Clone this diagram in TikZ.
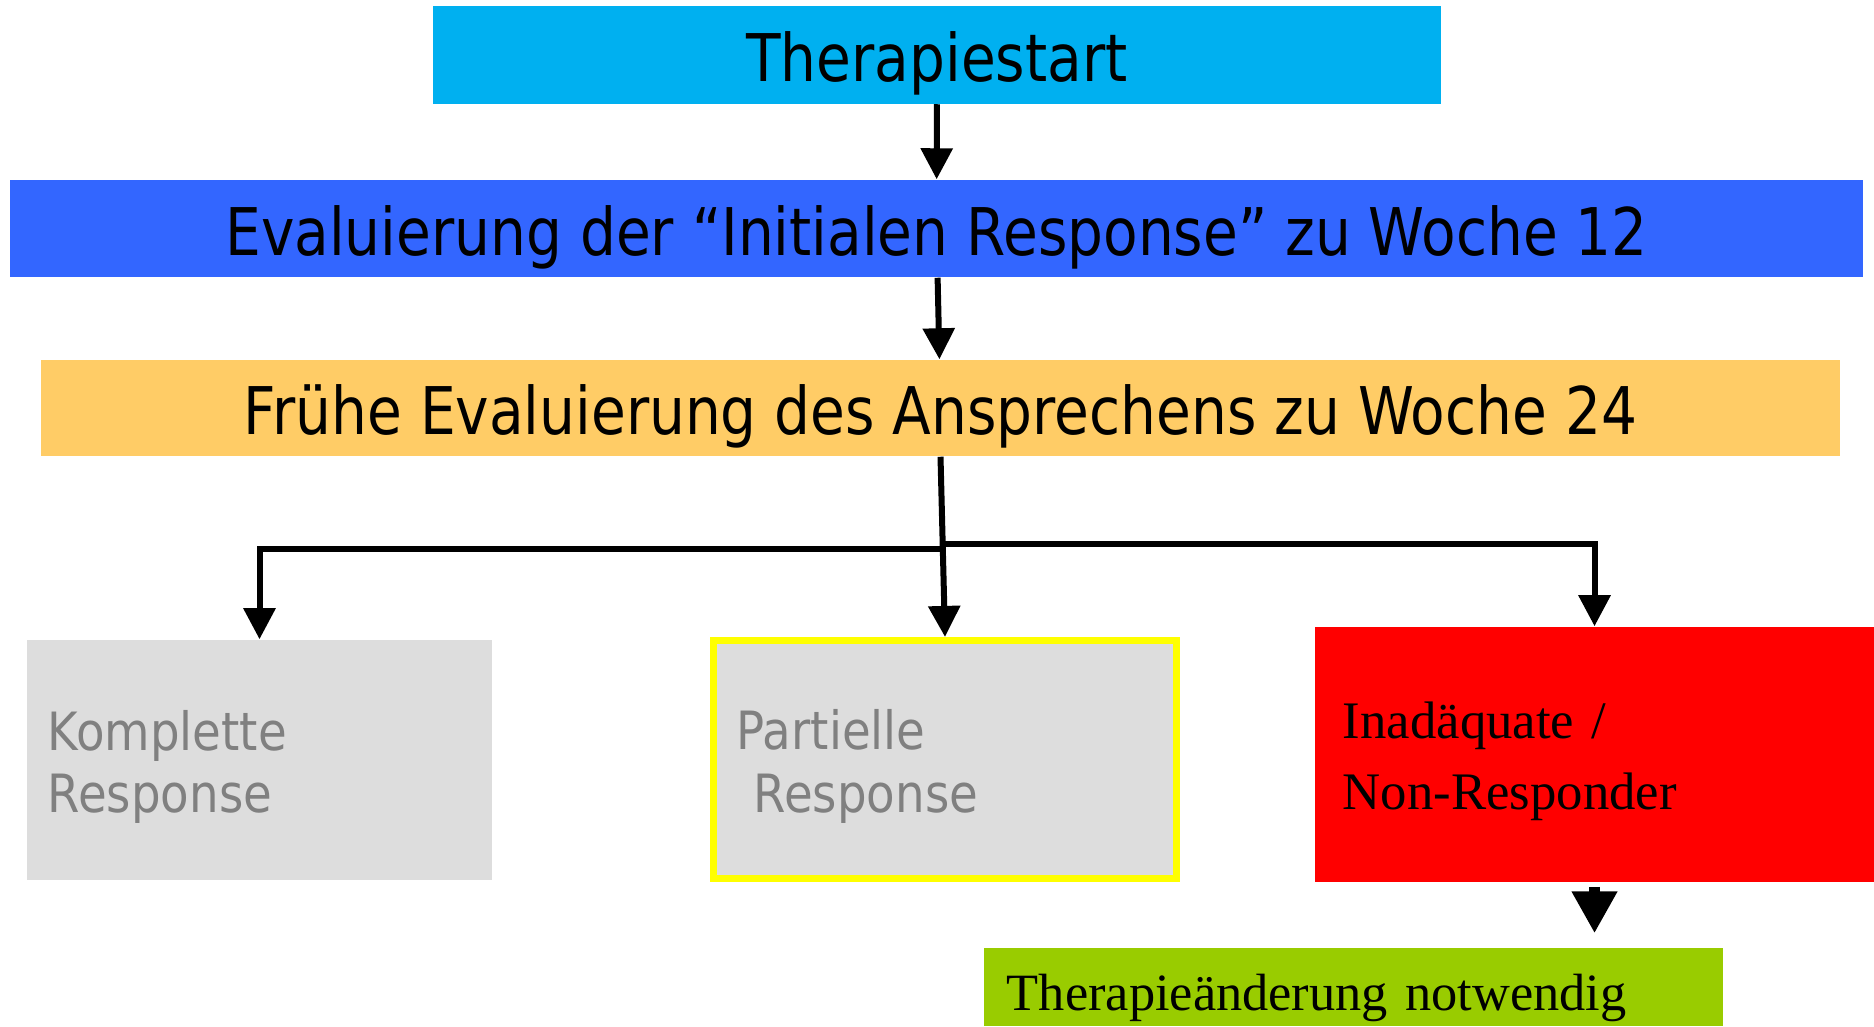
\documentclass[tikz,border=0pt]{standalone}
\usepackage{fontspec}
\usepackage{xcolor}
\usepackage{tikz}
\usetikzlibrary{arrows.meta, positioning, calc}

\newfontfamily\tahomafont[FakeStretch=0.86]{DejaVu Sans}
\newfontfamily\tahomasmall[FakeStretch=0.885]{DejaVu Sans}
\newfontfamily\timesfont{Liberation Serif}

\definecolor{startblue}{HTML}{00B0F0}
\definecolor{evalblue}{HTML}{3366FF}
\definecolor{weekorange}{HTML}{FFCC66}
\definecolor{respgrey}{HTML}{DDDDDD}
\definecolor{respgreytext}{HTML}{808080}
\definecolor{respyellow}{HTML}{FFFF00}
\definecolor{nonred}{HTML}{FF0000}
\definecolor{changegreen}{HTML}{99CC00}

\begin{document}
\begin{tikzpicture}[
    x=0.01cm, y=-0.01cm,
    bar/.style={inner sep=0pt, align=center, text height=0.6cm, text depth=0.07cm,
                font=\tahomafont\fontsize{18.7pt}{22pt}\selectfont},
    resp/.style={fill=respgrey, inner xsep=0.21cm, inner ysep=0pt, align=left,
                 text height=0.40cm, text depth=0.60cm, text=respgreytext,
                 font=\tahomasmall\fontsize{15pt}{17.9pt}\selectfont},
    serifbox/.style={inner ysep=0pt, align=left,
                     font=\timesfont\fontsize{15pt}{20.4pt}\selectfont},
    arr/.style={-{Triangle[width=0.31cm,length=0.31cm]}, line width=0.06cm},
    blockarr/.style={-{Triangle[width=0.43cm,length=0.42cm]}, line width=0.11cm},
  ]
  \useasboundingbox (0,0) rectangle (1874,1026);

  % three bars on top
  \node[bar, fill=startblue, minimum width=10.08cm, minimum height=0.97cm]
        (start) at (937,55) {Therapiestart};
  \node[bar, fill=evalblue, minimum width=18.51cm, minimum height=0.97cm]
        (eval) at (936.5,228.5) {Evaluierung der “Initialen Response” zu Woche 12};
  \node[bar, fill=weekorange, minimum width=17.97cm, minimum height=0.96cm]
        (fruehe) at (940.5,408) {Frühe Evaluierung des Ansprechens zu Woche 24};

  % response classes
  \node[resp, text width=4.23cm, minimum height=2.40cm]
        (komplett) at (259.5,760) {Komplette\\Response};
  \node[resp, draw=respyellow, line width=0.07cm, inner xsep=0.235cm,
        text width=4.16cm, minimum height=2.38cm]
        (partiell) at (945,759.5) {Partielle\\\hspace*{4.8pt}Response};
  \node[serifbox, fill=nonred, inner xsep=0.28cm, text width=5.03cm,
        minimum height=2.55cm, text height=0.4cm, text depth=0.73cm]
        (nonresp) at (1594.5,754.5) {Inadäquate /\\Non-Responder};
  \node[serifbox, fill=changegreen, inner xsep=0.23cm, text width=6.93cm,
        minimum height=0.78cm, text height=0.5cm, text depth=0.04cm,
        font=\timesfont\fontsize{14.9pt}{18pt}\selectfont]
        (change) at (1353.5,987) {Therapieänderung notwendig};

  % branch points below the orange bar
  \coordinate (splitL) at (942,549);
  \coordinate (splitR) at (942,544);

  \draw[arr] (start) -- (eval);
  \draw[arr] (eval) -- (fruehe);
  \draw[arr] (fruehe.south) -- (partiell.north);
  \draw[arr] (splitL) -| (komplett.north);
  \draw[arr] (splitR) -| (nonresp.north);
  \draw[blockarr, shorten <=0.04cm, shorten >=0.14cm]
        (nonresp.south) -- (nonresp.south |- change.north);

\end{tikzpicture}
\end{document}
